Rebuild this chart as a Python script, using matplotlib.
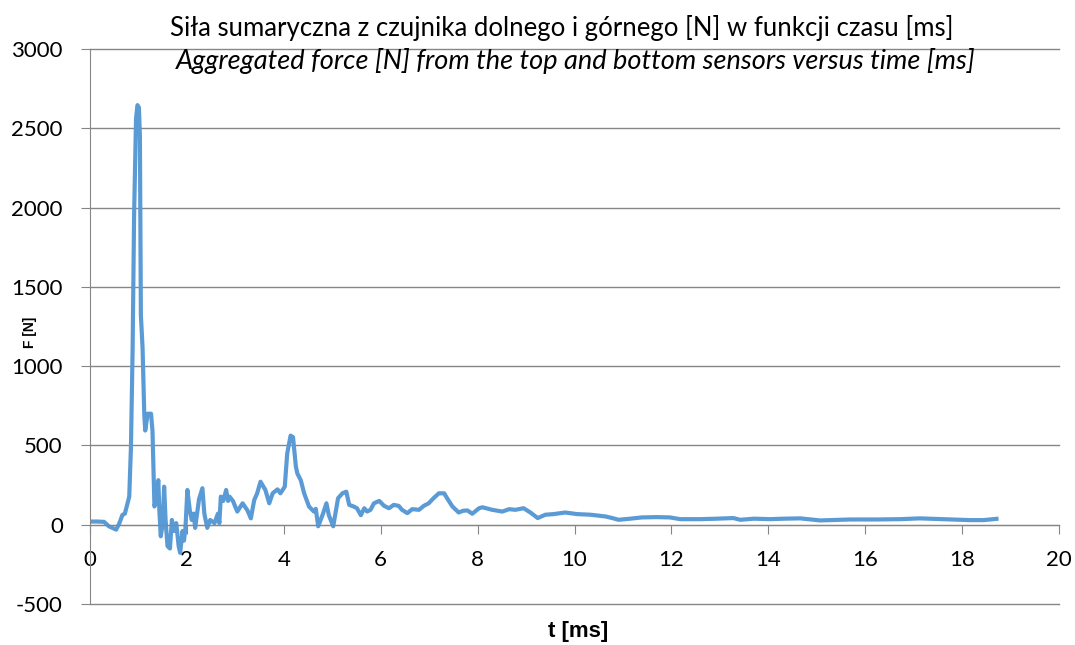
import matplotlib
matplotlib.use('Agg')
import matplotlib.pyplot as plt

plt.rcParams['axes.unicode_minus'] = False

# Dane: czas [ms] i siła [N]
czas = [0.00, 0.15, 0.29, 0.39, 0.54, 0.60, 0.67, 0.72, 0.81, 0.845, 0.88, 0.91, 0.95,
        0.98, 1.01, 1.03, 1.05, 1.085, 1.12, 1.14, 1.19, 1.26, 1.29, 1.33, 1.36, 1.41,
        1.43, 1.46, 1.50, 1.53, 1.56, 1.60, 1.65, 1.69, 1.73, 1.78, 1.83, 1.86, 1.91,
        1.94, 1.97, 2.01, 2.06, 2.10, 2.14, 2.17, 2.25, 2.32, 2.36, 2.42, 2.48, 2.57,
        2.64, 2.67, 2.70, 2.75, 2.81, 2.85, 2.88, 2.95, 3.04, 3.15, 3.25, 3.32, 3.39,
        3.45, 3.52, 3.62, 3.70, 3.77, 3.87, 3.93, 4.02, 4.07, 4.14, 4.19, 4.25, 4.28,
        4.35, 4.42, 4.52, 4.62, 4.66, 4.71, 4.76, 4.81, 4.88, 4.93, 5.02, 5.06, 5.12,
        5.21, 5.29, 5.35, 5.44, 5.51, 5.59, 5.66, 5.72, 5.79, 5.86, 5.97, 6.07, 6.17,
        6.27, 6.37, 6.44, 6.55, 6.65, 6.79, 6.89, 6.99, 7.09, 7.20, 7.31, 7.37, 7.48,
        7.61, 7.70, 7.79, 7.89, 8.03, 8.10, 8.30, 8.51, 8.65, 8.78, 8.95, 9.09, 9.24,
        9.40, 9.57, 9.81, 10.05, 10.33, 10.64, 10.78, 10.91, 11.15, 11.39, 11.70, 11.97,
        12.18, 12.59, 12.94, 13.28, 13.42, 13.70, 14.04, 14.32, 14.66, 15.07, 15.69,
        16.24, 16.72, 17.13, 17.61, 18.16, 18.44, 18.71]
sila = [20, 20, 18, -10, -31, 5, 62, 70, 177, 490, 1115, 1948, 2560,
        2646, 2630, 2450, 1323, 1115, 698, 594, 700, 700, 590, 115, 150, 281,
        100, -73, 0, 240, 30, -135, -150, 30, -40, 10, -135, -177, -40,
        -100, -20, 219, 90, 30, 70, -20, 160, 230, 70, -20, 30, 10,
        70, 10, 177, 150, 219, 150, 177, 150, 83, 135, 90, 40, 156,
        198, 271, 219, 135, 198, 223, 198, 240, 448, 562, 552, 365, 323,
        281, 198, 115, 83, 100, -10, 30, 70, 135, 60, -10, 60, 167,
        198, 208, 125, 115, 104, 60, 104, 83, 94, 135, 150, 119, 104,
        125, 119, 94, 73, 98, 94, 119, 135, 167, 198, 198, 167, 115,
        77, 88, 90, 69, 104, 110, 94, 83, 98, 94, 104, 77, 42,
        63, 67, 77, 67, 63, 52, 42, 31, 38, 46, 48, 46,
        35, 35, 38, 42, 31, 38, 35, 38, 40, 27, 33,
        33, 35, 40, 35, 29, 29, 37]

x_ticks = list(range(0, 21, 2))
y_ticks = list(range(-500, 3001, 500))

tytul_pl = 'Siła sumaryczna z czujnika dolnego i górnego [N] w funkcji czasu [ms]'
tytul_en = 'Aggregated force [N] from the top and bottom sensors versus time [ms]'

szary = '#868686'
niebieski = '#5B9BD5'

fig = plt.figure(figsize=(10.75, 6.45), dpi=100)
ax = fig.add_axes([90 / 1075, 1 - 604 / 645, 969 / 1075, 555 / 645])

ax.plot(czas, sila, color=niebieski, linewidth=3.0, solid_joinstyle='round')

ax.set_xlim(0, 20)
ax.set_ylim(-500, 3000)
ax.set_xticks(x_ticks)
ax.set_yticks(y_ticks)
ax.grid(axis='y', color=szary, linewidth=1)
ax.set_axisbelow(True)
for gl in ax.get_ygridlines():
    gl.set_clip_on(False)

for s in ['top', 'right']:
    ax.spines[s].set_visible(False)
ax.spines['bottom'].set_position(('data', 0))
ax.spines['bottom'].set_color(szary)
ax.spines['left'].set_color(szary)

ax.tick_params(axis='both', direction='out', length=6.5, color=szary,
               labelsize=16, labelcolor='black')
ax.tick_params(axis='x', pad=12)
ax.tick_params(axis='y', pad=13)
for lab in ax.get_xticklabels() + ax.get_yticklabels():
    lab.set_fontfamily('Lato')

ax.set_xlabel('t [ms]', fontfamily='Liberation Sans', fontweight='bold', fontsize=16,
              va='center')
ax.xaxis.set_label_coords(0.504, -0.05)
ax.set_ylabel('F [N]', fontfamily='Liberation Sans', fontweight='bold', fontsize=10,
              va='center')
ax.yaxis.set_label_coords(-0.062, 0.49)

fig.text(562 / 1075, 1 - 36 / 645, tytul_pl, ha='center', va='baseline',
         fontfamily='Lato', fontsize=18.5)
fig.text(576 / 1075, 1 - 69 / 645, tytul_en, ha='center', va='baseline',
         fontfamily='Lato', fontsize=19.5, style='italic')

fig.savefig('out.png', dpi=100)
